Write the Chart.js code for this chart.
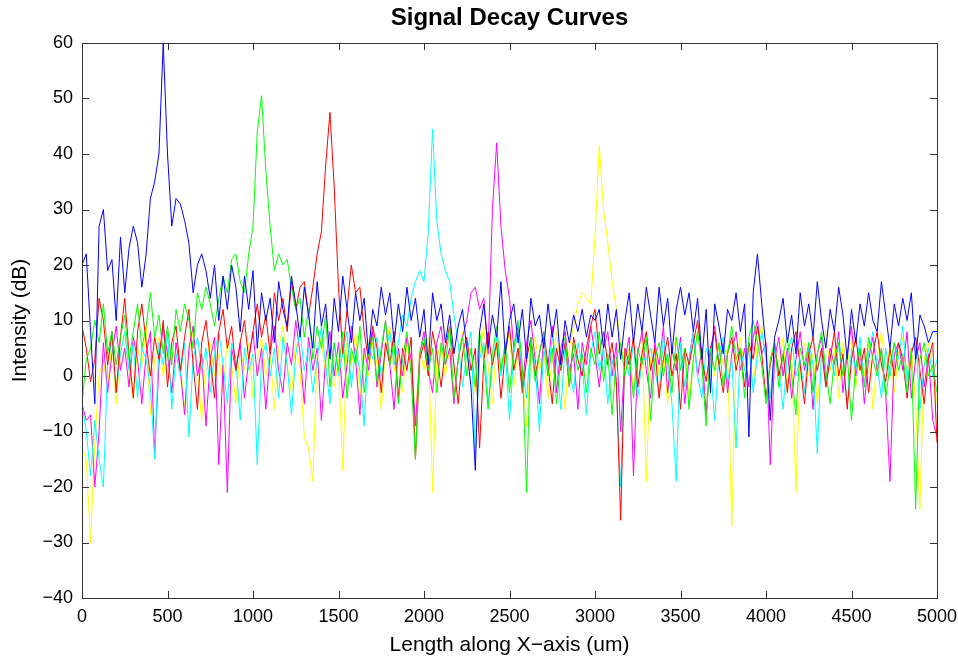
<!DOCTYPE html>
<html>
<head>
<meta charset="utf-8">
<script src="https://cdn.jsdelivr.net/npm/chart.js@4/dist/chart.umd.min.js"></script>
<style>
  body { margin: 0; background: #fff; }
</style>
</head>
<body>
<canvas id="myChart" width="958" height="660"></canvas>
<script>
"use strict";

// sample spacing along x (um), one value every 25 um from 0 to 5000
const xStep = 25;
const xTicks = [0, 500, 1000, 1500, 2000, 2500, 3000, 3500, 4000, 4500, 5000];
const yTicks = [-40, -30, -20, -10, 0, 10, 20, 30, 40, 50, 60];

// one row = 500 um
const blue = [
  20, 22, 8, -5, 27, 30, 19, 21, 10, 25, 15, 23, 27, 24, 16, 22, 32, 35, 40, 60,
  40, 27, 32, 31, 28, 24, 15, 20, 22, 19, 14, 20, 10, 18, 12, 20, 16, 8, 18, 12,
  19, 5, 15, 10, 14, 6, 17, 12, 9, 18, 13, 7, 16, 11, 5, 17, 9, 13, 3, 14,
  8, 18, 12, 6, 15, 10, 14, 4, 12, 9, 16, 11, 15, 6, 13, 8, 16, 10, 14, 7,
  12, 2, 15, 10, 13, 6, 11, 4, 9, 12, 5, -2, -17, 8, 13, 5, 11, 7, 17, 4,
  10, 13, 6, 12, 3, 14, 9, 11, 5, 13, 7, 12, 2, 10, 6, 11, 8, 12, 7, 11,
  10, 12, 5, 13, 7, 12, 3, 10, 15, 6, 13, 8, 16, 11, 6, 16, 9, 14, 4, 12,
  16, 11, 15, 8, 14, 3, 12, -3, 13, 9, 4, 12, 10, 15, 8, 13, -11, 15, 22, 13,
  5, -8, 7, 10, 14, 6, 11, 4, 15, 9, 13, 7, 17, 10, 5, 12, 8, 16, 11, 3,
  12, 6, 13, 9, 15, 10, 8, 17, 11, 5, 13, 9, 14, 10, 15, 3, 11, 9, 6, 8,
  8
];
const green = [
  -5, 3, 5, 10, 6, 13, 4, 8, 2, 7, 11, 3, 8, 13, 5, 9, 15, 7, 11, 4,
  9, 2, 12, 8, 13, 10, 5, 15, 12, 16, 13, 9, 14, 18, 15, 21, 22, 17, 15, 22,
  27, 44, 50.5, 37, 27, 19, 22, 20, 21, 16, 12, 14, 7, 12, 3, 9, 5, 11, -2, 6,
  1, 8, -4, 5, 2, 9, -3, 4, 7, -1, 5, 10, 2, 6, -5, 3, 8, 0, -15, 4,
  7, 1, 5, -3, 6, 2, 9, -4, 3, 7, 0, 5, -2, 8, 3, -6, 4, 9, 1, 6,
  -3, 5, 10, 2, -21, 7, -1, 4, 8, 0, 5, -5, 3, 7, -2, 6, 1, 4, -3, 5,
  2, 8, -1, 4, -7, 3, 6, 0, 4, -4, 5, 2, 7, -8, 3, 6, 0, 4, -3, 7,
  1, 5, -6, 3, 8, 2, -9, 5, 1, 6, -2, 4, 9, 3, 5, -4, 7, 10, 6, 2,
  -5, 3, 6, -2, 4, 7, 0, -7, 5, 2, 6, -3, 4, 8, 1, -5, 3, 6, 0, 4,
  -8, 2, 5, -2, 7, 3, 0, 5, -4, 2, 6, 1, 4, -3, 5, -24, 3, 6, 0, 2,
  -3
];
const red = [
  9, 5, -1, 3, 14, 10, 2, 8, -3, 7, 14, 4, -4, 8, 13, 6, 0, 7, 3, 10,
  -2, 6, 9, 1, 7, 12, 2, -6, 6, 10, 3, -4, 8, 12, 5, 9, 1, 6, 10, 3,
  8, 13, 7, 11, 4, 15, 10, 14, 8, 17, 12, 16, 17, 11, 16, 22, 26, 38, 47.5, 34,
  16, 4, 12, 20, 15, 16, 8, 3, 9, 5, -3, 6, 2, 8, -4, 5, 1, 7, -15, 3,
  6, 0, 8, 4, -2, 5, 9, 2, -5, 4, 7, 1, 5, -13, 3, 8, 2, 6, -4, 4,
  9, 1, 5, -3, 3, 7, 0, 4, 8, 2, -5, 5, 1, 6, -2, 7, 3, 0, 5, 9,
  12, 4, 8, 2, 6, -1, -26, 5, 2, 7, -2, 4, 8, 1, 5, -4, 3, 7, 0, 4,
  -6, 5, 2, 6, 10, 3, -1, 5, 8, 2, -3, 4, 7, 1, 5, -2, 6, 3, 9, 4,
  -4, 2, 6, 0, 4, -3, 5, 8, 2, -5, 4, 7, 1, 5, -2, 3, 8, 0, 4, -6,
  3, 7, 1, 5, -3, 4, 8, 2, -1, 5, 0, 6, 3, -4, 4, 7, 1, -5, 3, 6,
  -12
];
const cyan = [
  -5, -10, -18, -8, -15, -20, 2, 7, -3, 4, 8, 1, 6, -4, 5, 3, -2, -15, 6, 2,
  8, -6, 4, 0, 6, -11, 3, 7, 1, 5, -3, 4, 8, 2, -5, 6, 3, -8, 5, 1,
  4, -16, 3, 6, 0, 5, -4, 7, 2, -7, 4, 8, 1, 5, -3, 3, 9, 2, -5, 6,
  0, 4, 8, -2, 5, 1, -9, 6, 3, 7, 0, 4, 8, 2, 6, 11, 9, 14, 17, 19,
  17, 26, 44.5, 28, 22, 19, 17, 11, 6, -2, 4, 8, -14, 3, 6, -5, 2, 7, 0, 5,
  -8, 4, 8, 1, -4, 6, 2, -10, 5, 0, 7, 3, -6, 5, 1, -3, 6, 2, -7, 4,
  8, 1, 5, -5, 3, -2, -20, 4, 0, 6, -4, 3, 3, 5, 1, -3, 7, 2, -5, -19,
  6, -2, 3, 8, 0, -4, 5, 2, -8, 4, 7, -1, 3, -13, 5, 1, 6, -3, 4, 8,
  3, -4, 5, 1, -6, 4, 7, 0, 3, -3, 6, 2, -14, 5, -2, 4, 0, 6, 3, -5,
  5, 1, 7, -2, 4, 8, 2, -4, 5, 0, 6, 3, 9, -1, 4, 7, -6, 2, 5, 0,
  3
];
const magenta = [
  -5, -8, -7, -20, -10, 6, -3, 4, 9, 1, 5, -2, 7, 3, -5, 4, 8, -14, 2, 9,
  4, -3, 6, 1, -7, 5, 9, 0, 4, -9, 3, 7, -16, 2, -21, 5, 1, 6, -4, 3,
  8, 0, 5, -6, 4, 9, 1, -3, 6, 2, 10, 4, -5, 7, 1, 5, -8, 3, 8, 0,
  6, -4, 2, 9, 3, -7, 5, 1, 8, -2, 4, 10, 2, -6, 5, 0, 7, 3, -9, 4,
  8, 1, -3, 6, 9, 2, 5, -5, 3, 7, 10, 15, 16, 12, 14, 4, 30, 42, 27, 19,
  14, 5, 9, -2, 6, 10, 3, -5, 7, 2, 9, -3, 5, 8, 1, 4, -6, 6, 2, 9,
  4, -2, 5, 8, 0, 6, -10, 3, 7, -18, 4, 8, 1, -4, 6, 2, 9, -3, 5, 1,
  7, -5, 3, 8, 0, 5, -7, 4, 9, 2, 6, -3, 4, 8, 1, 5, -2, 7, 10, 4,
  6, -16, 3, 7, 0, 5, -4, 3, 8, 1, 5, -6, 4, 7, -1, 5, 2, 8, -3, 4,
  9, 0, 5, -5, 3, 7, 1, 5, -3, -19, 4, 6, 1, 8, -4, 3, 6, -2, 4, -8,
  -11
];
const yellow = [
  -13, -15, -30, -12, 0, 3, -2, 6, -5, 4, 8, 1, -4, 5, 2, 9, -7, 3, 7, 0,
  5, -3, 6, 2, -6, 4, 8, 1, -8, 3, 6, 0, 4, -3, 7, 2, -5, 5, 1, 6,
  -4, 3, 7, 0, 4, -6, 5, 9, 2, -3, 6, 1, -11, -13, -19, 4, 7, 0, 5, -2,
  3, -17, 6, 2, 8, -4, 4, 0, 6, 2, -6, 5, 9, 1, 4, -3, 6, 2, -8, 5,
  1, 7, -21, 3, 6, 0, 5, -4, 3, 8, 1, 5, -3, 4, 9, 2, -5, 6, 1, 4,
  8, -2, 5, 0, -9, 4, 7, 1, 5, -4, 3, 8, 2, -6, 5, 9, 13, 15, 14, 13,
  25, 41.5, 30, 24, 17, 12, 6, 1, 5, -3, 4, 8, -19, 3, 6, 0, 5, -5, 4, 7,
  1, 5, -4, 3, 8, 2, -7, 4, 0, 6, 2, 5, -27, 3, 7, 1, 5, -2, 6, 9,
  3, -4, 5, 1, 7, -3, 4, -21, 2, 6, 0, 4, -5, 3, 8, 1, 5, -4, 6, 2,
  7, -2, 4, 0, 6, -6, 3, 8, 1, 5, -3, 4, 7, 0, 5, -5, -24, 3, 6, 1,
  -5
];

const xs = blue.map((_, i) => i * xStep);
const font = "'Liberation Sans', Helvetica, Arial, sans-serif";

function series(vals, color) {
  return {
    data: vals.map((v, i) => ({ x: xs[i], y: v })),
    borderColor: color,
    borderWidth: 1,
    pointRadius: 0,
    tension: 0,
    fill: false,
  };
}

// plain numbers, with a real minus sign
function tickText(v) {
  return String(v).replace("-", "\u2212");
}

// frame round the plot and ticks pointing inwards on all four sides
const frameTicks = {
  id: "frameTicks",
  afterDatasetsDraw(chart) {
    const { ctx, chartArea: a, scales } = chart;
    const len = 7;
    ctx.save();
    ctx.strokeStyle = "#333";
    ctx.lineWidth = 1;
    ctx.beginPath();
    xTicks.forEach((v) => {
      const px = Math.round(scales.x.getPixelForValue(v)) + 0.5;
      ctx.moveTo(px, a.bottom);
      ctx.lineTo(px, a.bottom - len);
      ctx.moveTo(px, a.top);
      ctx.lineTo(px, a.top + len);
    });
    yTicks.forEach((v) => {
      const py = Math.round(scales.y.getPixelForValue(v)) + 0.5;
      ctx.moveTo(a.left, py);
      ctx.lineTo(a.left + len, py);
      ctx.moveTo(a.right, py);
      ctx.lineTo(a.right - len, py);
    });
    ctx.stroke();
    ctx.strokeRect(Math.round(a.left) + 0.5, Math.round(a.top) + 0.5,
      Math.round(a.right - a.left), Math.round(a.bottom - a.top));
    ctx.restore();
  },
};

const ctx = document.getElementById("myChart");

new Chart(ctx, {
  type: "line",
  data: {
    datasets: [
      series(blue, "#0000ff"),
      series(green, "#00ff00"),
      series(red, "#ff0000"),
      series(cyan, "#00ffff"),
      series(magenta, "#ff00ff"),
      series(yellow, "#ffff00"),
    ],
  },
  options: {
    responsive: false,
    animation: false,
    layout: { padding: { top: 0, right: 21, bottom: 0, left: 0 } },
    plugins: {
      legend: { display: false },
      tooltip: { enabled: false },
      title: {
        display: true,
        fullSize: false, // centre it over the plot, not the whole canvas
        text: "Signal Decay Curves",
        color: "#000",
        font: { family: font, size: 24, weight: "bold" },
        padding: { top: 4, bottom: 10.2 },
      },
    },
    scales: {
      x: {
        type: "linear",
        min: 0,
        max: 5000,
        afterBuildTicks: (s) => {
          s.ticks = xTicks.map((v) => ({ value: v }));
        },
        afterFit: (s) => {
          s.height = 62;
          s.paddingLeft = 0;
          s.paddingRight = 0;
        },
        grid: { display: false, drawTicks: false },
        border: { display: false },
        ticks: {
          color: "#000",
          font: { family: font, size: 18 },
          padding: 8,
          maxRotation: 0,
          autoSkip: false,
          callback: tickText,
        },
        title: {
          display: true,
          text: "Length along X\u2212axis (um)",
          color: "#000",
          font: { family: font, size: 21 },
          padding: { top: 0, bottom: 2.4 },
        },
      },
      y: {
        min: -40,
        max: 60,
        afterBuildTicks: (s) => {
          s.ticks = yTicks.map((v) => ({ value: v }));
        },
        afterFit: (s) => {
          s.width = 82;
          s.paddingTop = 0;
          s.paddingBottom = 0;
        },
        grid: { display: false, drawTicks: false },
        border: { display: false },
        ticks: {
          color: "#000",
          font: { family: font, size: 18 },
          padding: 9,
          autoSkip: false,
          callback: tickText,
        },
        title: {
          display: true,
          text: "Intensity (dB)",
          color: "#000",
          font: { family: font, size: 21 },
          padding: { top: 7.4, bottom: 0 },
        },
      },
    },
  },
  plugins: [frameTicks],
});
</script>
</body>
</html>
